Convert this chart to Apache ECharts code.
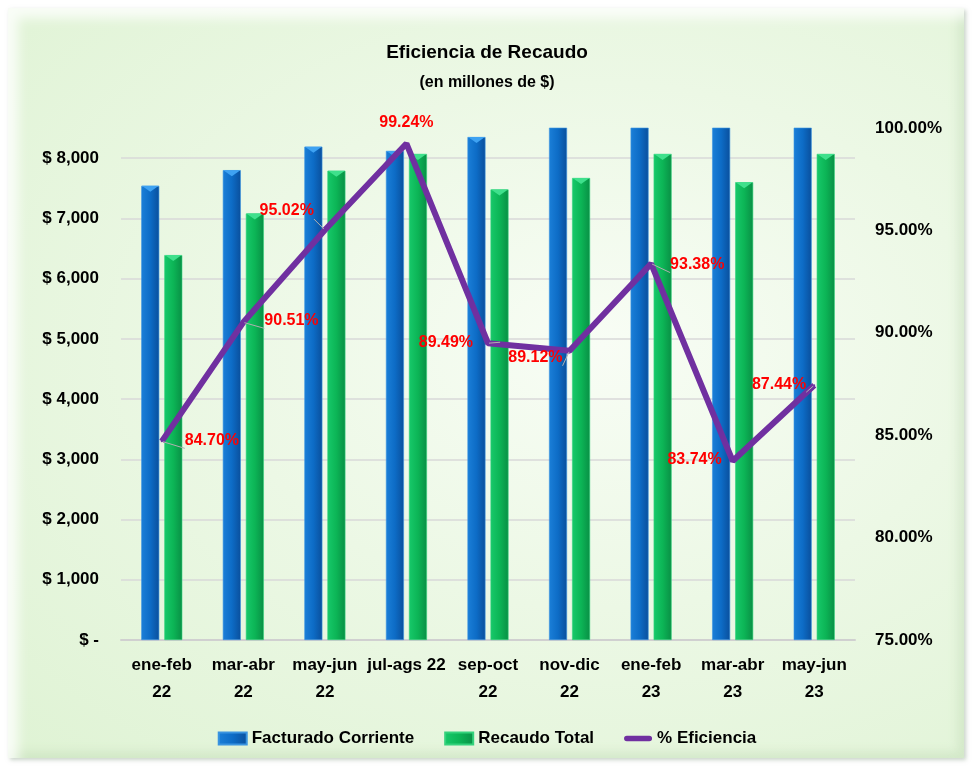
<!DOCTYPE html>
<html>
<head>
<meta charset="utf-8">
<script src="https://cdn.jsdelivr.net/npm/echarts@6/dist/echarts.min.js"></script>
<style>
html,body{margin:0;padding:0;background:#ffffff;}
#frame{position:absolute;left:8px;top:8px;width:956px;height:750px;
 background:radial-gradient(ellipse at 62% 45%, #f8fdf5 0%, #ecf8e5 45%, #dff3d4 100%);
 box-shadow: inset 10px 10px 12px rgba(255,255,255,0.8), inset -6px -6px 10px rgba(180,210,170,0.35), 2px 2px 4px rgba(150,170,150,0.5);}
#chart{position:absolute;left:0;top:0;width:974px;height:771px;}
</style>
</head>
<body>
<div id="frame"></div>
<div id="chart"></div>
<script>
const categories = ['ene-feb\n22','mar-abr\n22','may-jun\n22','jul-ags 22','sep-oct\n22','nov-dic\n22','ene-feb\n23','mar-abr\n23','may-jun\n23'];
const facturado = [7540, 7800, 8190, 8120, 8350, 8610, 8640, 9080, 9230];
const recaudo = [6390, 7080, 7790, 8070, 7480, 7670, 8070, 7600, 8070];
const eficiencia = [84.70, 90.51, 95.02, 99.24, 89.49, 89.12, 93.38, 83.74, 87.44];
const leftMax = 8500;
const labelPlacement = [
  {position:'right', distance:22, offset:[0,-1]},
  {position:'right', distance:20, offset:[0,-2]},
  {position:'left', distance:10, offset:[0,-19]},
  {position:'top', distance:12, offset:[0,0]},
  {position:'left', distance:14, offset:[0,-1]},
  {position:'left', distance:6, offset:[0,7]},
  {position:'right', distance:18, offset:[0,1]},
  {position:'left', distance:10, offset:[0,-1]},
  {position:'left', distance:7, offset:[0,-1]}
];
const leaderShown = [true, true, true, false, true, true, true, false, true];
const FONT = '"Liberation Sans Narrow","Arial Narrow","Liberation Sans",Arial,sans-serif';

const chart = echarts.init(document.getElementById('chart'));
const blueGrad = new echarts.graphic.LinearGradient(0,0,1,0,[
  {offset:0,color:'#1b7fd8'},{offset:0.5,color:'#0d6cc6'},{offset:1,color:'#0a4f9c'}]);
const greenGrad = new echarts.graphic.LinearGradient(0,0,1,0,[
  {offset:0,color:'#17c96a'},{offset:0.5,color:'#0cb556'},{offset:1,color:'#098f45'}]);
const capData = arr => arr.map(v => v > leftMax ? '-' : v);

chart.setOption({
  backgroundColor:'transparent',
  textStyle:{fontFamily:FONT},
  title:{
    text:'Eficiencia de Recaudo',
    subtext:'(en millones de $)',
    left:'center', top:38, itemGap:13,
    textStyle:{fontFamily:FONT, fontSize:19, fontWeight:'bold', color:'#000'},
    subtextStyle:{fontFamily:FONT, fontSize:16, fontWeight:'bold', color:'#000'}
  },
  grid:{left:121, right:119, top:128, bottom:131, containLabel:false},
  legend:{
    bottom:19, left:'center', itemWidth:28, itemHeight:12, itemGap:30,
    textStyle:{fontFamily:FONT, fontSize:17, fontWeight:'bold', color:'#000'},
    data:[
      {name:'Facturado Corriente', icon:'rect'},
      {name:'Recaudo Total', icon:'rect'},
      {name:'% Eficiencia', icon:'path://M3,0 L27,0 A3,3 0 0 1 27,6 L3,6 A3,3 0 0 1 3,0 Z'}
    ]
  },
  xAxis:{
    type:'category', data:categories,
    axisLine:{lineStyle:{color:'#d0d0d0', width:2}},
    axisTick:{show:false},
    axisLabel:{fontFamily:FONT, fontSize:17, fontWeight:'bold', color:'#000', margin:12, lineHeight:27, interval:0}
  },
  yAxis:[
    {type:'value', min:0, max:leftMax, interval:1000,
     axisLine:{show:false}, axisTick:{show:false},
     splitLine:{show:true, showMaxLine:false, lineStyle:{color:'#d9d9d9', width:1.5}},
     axisLabel:{showMaxLabel:false, fontFamily:FONT, fontSize:17, fontWeight:'bold', color:'#000', margin:22,
       formatter:v => v === 0 ? '$ -' : '$ ' + v.toLocaleString('en-US')}
    },
    {type:'value', min:75, max:100, interval:5,
     axisLine:{show:false}, axisTick:{show:false}, splitLine:{show:false},
     axisLabel:{fontFamily:FONT, fontSize:17, fontWeight:'bold', color:'#000', margin:20,
       formatter:v => v.toFixed(2) + '%'}
    }
  ],
  series:[
    {name:'Facturado Corriente', type:'bar', data:facturado, barWidth:18, barGap:'28%',
     itemStyle:{color:blueGrad, borderColor:'#3a94e0', borderWidth:0.6}},
    {name:'Recaudo Total', type:'bar', data:recaudo, barWidth:18,
     itemStyle:{color:greenGrad, borderColor:'#34d27c', borderWidth:0.6}},
    {name:'capBlue', type:'pictorialBar', data:capData(facturado), symbol:'triangle', symbolRotate:180,
     symbolPosition:'end', symbolSize:[17,6], symbolOffset:[-11.5,0], z:3, silent:true,
     itemStyle:{color:'#3ea2f2'}},
    {name:'capGreen', type:'pictorialBar', data:capData(recaudo), symbol:'triangle', symbolRotate:180,
     symbolPosition:'end', symbolSize:[17,6], symbolOffset:[11.5,0], z:3, silent:true,
     itemStyle:{color:'#3fe08c'}},
    {name:'% Eficiencia', type:'line', yAxisIndex:1, symbol:'circle', symbolSize:2, showSymbol:true, z:5,
     lineStyle:{color:'#7030a0', width:6}, itemStyle:{color:'#7030a0'},
     data:eficiencia.map((v,i) => ({value:v, label:labelPlacement[i], labelLine:{show:leaderShown[i]}})),
     label:{show:true, fontFamily:FONT, fontSize:16, fontWeight:'bold', color:'#ff0000',
       formatter:p => p.value.toFixed(2) + '%'},
     labelLine:{show:true, lineStyle:{color:'#b0b0b0', width:1}}
    }
  ]
});
</script>
</body>
</html>
